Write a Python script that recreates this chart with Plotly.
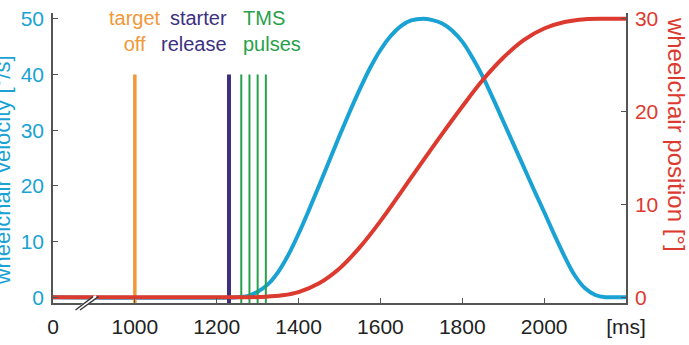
import plotly.graph_objects as go

# ---------------- data ----------------
vel_t = [800, 1250, 1275, 1300, 1325, 1350, 1375, 1400, 1425, 1450, 1475, 1500, 1525, 1550,
         1575, 1600, 1625, 1650, 1675, 1705, 1725, 1750, 1775, 1800, 1825, 1850, 1875, 1900,
         1925, 1950, 1975, 2000, 2025, 2050, 2075, 2100, 2125, 2150, 2175, 2200]
vel_v = [0, 0, 0.2, 1.0, 2.3, 4.5, 7.6, 11.4, 15.6, 20.0, 24.5, 29.0, 33.3, 37.4,
         41.2, 44.4, 46.9, 48.7, 49.7, 50.0, 49.8, 49.2, 47.9, 45.9, 43.0, 39.6, 35.7, 31.6,
         27.5, 23.4, 19.3, 15.3, 11.2, 7.3, 3.9, 1.6, 0.4, 0, 0, 0]

pos_t = [800, 1280, 1320, 1360, 1400, 1450, 1500, 1550, 1600, 1650, 1700, 1750, 1800,
         1850, 1900, 1950, 2000, 2050, 2100, 2150, 2200]
pos_v = [0, 0, 0.05, 0.2, 0.55, 1.5, 3.1, 5.4, 8.2, 11.3, 14.45, 17.55, 20.55,
         23.4, 25.8, 27.7, 28.95, 29.65, 29.95, 30, 30]

target_off = [1000]
starter_release = [1230]
tms_pulses = [1260, 1280, 1300, 1320]
event_top = 40

x_tickvals = [800, 1000, 1200, 1400, 1600, 1800, 2000, 2200]
x_ticktext = ["0", "1000", "1200", "1400", "1600", "1800", "2000", "[ms]"]
vel_ticks = [0, 10, 20, 30, 40, 50]
pos_ticks = [0, 10, 20, 30]

# ---------------- style ----------------
BLUE = "#1AA2D4"
RED = "#DD3A2F"
ORANGE = "#F0983A"
PURPLE = "#3B3180"
GREEN = "#27A04A"
AXIS = "#555555"
FONT = "Liberation Sans, Arial, sans-serif"

XR = [800, 2200]
YR = [-1.04, 51.04]
Y2R = [-0.625, 30.625]


def vlines(ts):
    xs, ys = [], []
    for t in ts:
        xs += [t, t, None]
        ys += [YR[0], event_top, None]
    return xs, ys


fig = go.Figure()
fig.add_trace(go.Scatter(x=vel_t, y=vel_v, mode="lines",
                         line=dict(color=BLUE, width=4, shape="spline", smoothing=1.0),
                         yaxis="y", hoverinfo="skip"))
fig.add_trace(go.Scatter(x=pos_t, y=pos_v, mode="lines",
                         line=dict(color=RED, width=4, shape="spline", smoothing=1.0),
                         yaxis="y2", hoverinfo="skip"))
for ts, col, w in [(target_off, ORANGE, 3.5), (starter_release, PURPLE, 4), (tms_pulses, GREEN, 2)]:
    xs, ys = vlines(ts)
    fig.add_trace(go.Scatter(x=xs, y=ys, mode="lines", line=dict(color=col, width=w), yaxis="y", hoverinfo="skip"))

ann_font = 20
ann_y = 1.028
annotations = [
    dict(text="target<br>off", x=target_off[0], xref="x", y=ann_y, yref="paper", xanchor="center", yanchor="top",
         align="center", showarrow=False, font=dict(color=ORANGE, size=ann_font, family=FONT)),
    dict(text="starter<br>release", x=starter_release[0], xref="x", y=ann_y, yref="paper", xanchor="right",
         yanchor="top", align="right", showarrow=False, font=dict(color=PURPLE, size=ann_font, family=FONT)),
    dict(text="TMS<br>pulses", x=tms_pulses[0], xref="x", y=ann_y, yref="paper", xanchor="left", yanchor="top",
         align="left", showarrow=False, font=dict(color=GREEN, size=ann_font, family=FONT)),
    dict(text="wheelchair velocity [°/s]", x=-0.0875, xref="paper", y=0.457, yref="paper", textangle=-90,
         xanchor="center", yanchor="middle", showarrow=False, font=dict(color=BLUE, size=22, family=FONT)),
    dict(text="wheelchair position [°]", x=1.0873, xref="paper", y=0.583, yref="paper", textangle=90,
         xanchor="center", yanchor="middle", showarrow=False, font=dict(color=RED, size=24, family=FONT)),
]

# axis break marks
shapes = [
    dict(type="line", xref="x", yref="paper", x0=858, x1=906, y0=-0.024, y1=0.022, line=dict(color="white", width=4)),
    dict(type="line", xref="x", yref="paper", x0=855, x1=898, y0=-0.024, y1=0.022, line=dict(color="#333", width=1.3)),
    dict(type="line", xref="x", yref="paper", x0=866, x1=911, y0=-0.024, y1=0.022, line=dict(color="#333", width=1.3)),
]

fig.update_layout(
    width=689, height=345,
    margin=dict(l=53, r=63, t=7, b=38),
    paper_bgcolor="white", plot_bgcolor="white",
    showlegend=False,
    font=dict(family=FONT),
    annotations=annotations,
    shapes=shapes,
    xaxis=dict(range=XR, tickvals=x_tickvals, ticktext=x_ticktext, ticks="inside", ticklen=5, tickcolor=AXIS,
               showline=True, linecolor=AXIS, linewidth=1.5, showgrid=False, zeroline=False,
               tickfont=dict(size=21, color="#222"), ticklabelstandoff=4),
    yaxis=dict(range=YR, tickvals=vel_ticks, ticks="inside", ticklen=5, tickcolor=AXIS,
               showline=True, linecolor=AXIS, linewidth=1.5, showgrid=False, zeroline=False,
               tickfont=dict(size=21, color=BLUE), ticklabelstandoff=3),
    yaxis2=dict(range=Y2R, tickvals=pos_ticks, ticks="inside", ticklen=5, tickcolor=AXIS, overlaying="y",
                side="right", showline=True, linecolor=AXIS, linewidth=1.5, showgrid=False, zeroline=False,
                tickfont=dict(size=21, color=RED), ticklabelstandoff=3),
)

fig.write_html("out.html")
